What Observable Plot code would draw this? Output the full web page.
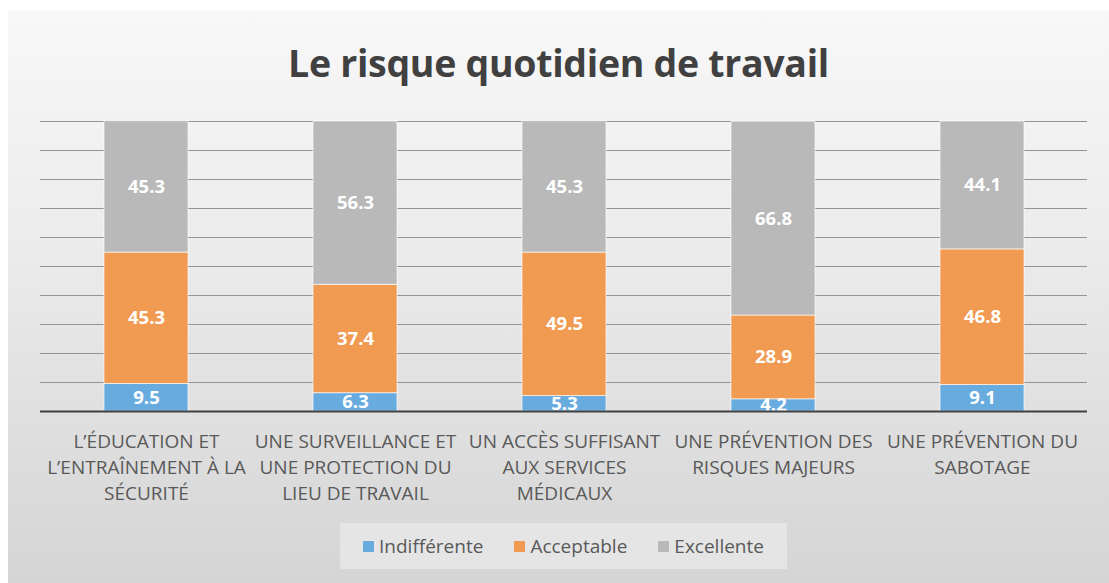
<!DOCTYPE html>
<html>
<head>
<meta charset="utf-8">
<script src="https://cdn.jsdelivr.net/npm/d3@7"></script>
<script src="https://cdn.jsdelivr.net/npm/@observablehq/plot@0.6"></script>
<style>
  html, body { margin: 0; padding: 0; background: #ffffff; }
  #root { position: relative; width: 1109px; height: 583px; overflow: hidden; font-family: "Open Sans", Lato, sans-serif; }
  #bg { position: absolute; left: 8px; top: 11px; width: 1101px; height: 572px;
        background: linear-gradient(to bottom, #f8f8f8 0%, #ececec 40%, #dedede 75%, #d5d5d5 100%); }
  #title { position: absolute; left: 8px; width: 1101px; top: 38px; text-align: center;
           font-size: 37.5px; font-weight: 700; color: #404040; line-height: 50px; letter-spacing: -0.3px; }
  #chart { position: absolute; left: 0; top: 100px; }
  #legend { position: absolute; left: 340px; top: 523px; width: 447px; height: 46px;
            background: rgba(240,240,240,0.55); display: flex; align-items: center; justify-content: center;
            gap: 31px; font-size: 19px; color: #595959; }
  .item { display: flex; align-items: center; gap: 5px; }
  .sw { width: 11px; height: 11px; display: inline-block; }
</style>
</head>
<body>
<div id="root">
  <div id="bg"></div>
  <div id="title"></div>
  <div id="chart"></div>
  <div id="legend"></div>
</div>
<script>
const titleText = "Le risque quotidien de travail";
const categories = [
  "L’ÉDUCATION ET L’ENTRAÎNEMENT À LA SÉCURITÉ",
  "UNE SURVEILLANCE ET UNE PROTECTION DU LIEU DE TRAVAIL",
  "UN ACCÈS SUFFISANT AUX SERVICES MÉDICAUX",
  "UNE PRÉVENTION DES RISQUES MAJEURS",
  "UNE PRÉVENTION DU SABOTAGE"
];
const tickLabels = [
  "L’ÉDUCATION ET\nL’ENTRAÎNEMENT À LA\nSÉCURITÉ",
  "UNE SURVEILLANCE ET\nUNE PROTECTION DU\nLIEU DE TRAVAIL",
  "UN ACCÈS SUFFISANT\nAUX SERVICES\nMÉDICAUX",
  "UNE PRÉVENTION DES\nRISQUES MAJEURS",
  "UNE PRÉVENTION DU\nSABOTAGE"
];
const seriesNames = ["Indifférente", "Acceptable", "Excellente"];
const seriesColors = ["#68abdf", "#f19a52", "#b9b9b9"];
const indifferente = [9.5, 6.3, 5.3, 4.2, 9.1];
const acceptable = [45.3, 37.4, 49.5, 28.9, 46.8];
const excellente = [45.3, 56.3, 45.3, 66.8, 44.1];
const gridTicks = [10, 20, 30, 40, 50, 60, 70, 80, 90, 100];

const seriesValues = [indifferente, acceptable, excellente];
const rows = [];
seriesNames.forEach((s, si) => {
  categories.forEach((c, ci) => rows.push({category: c, series: s, value: seriesValues[si][ci]}));
});
const labelOf = new Map(categories.map((c, i) => [c, tickLabels[i]]));

document.getElementById("title").textContent = titleText;

const W = 1109, H = 420;
const chart = Plot.plot({
  width: W,
  height: H,
  marginLeft: 40,
  marginRight: 22,
  marginTop: 21,
  marginBottom: 109,
  style: {background: "transparent", fontFamily: "'Open Sans', Lato, sans-serif", overflow: "visible"},
  x: {domain: categories, paddingInner: 0.6, paddingOuter: 0.3},
  y: {domain: [0, 100], axis: null},
  color: {domain: seriesNames, range: seriesColors},
  marks: [
    Plot.ruleY(gridTicks, {stroke: "#949494", strokeWidth: 1}),
    Plot.barY(rows, {x: "category", y: "value", fill: "series", order: seriesNames, stroke: "#ffffff", strokeWidth: 0.8, strokeOpacity: 0.8}),
    Plot.text(rows, Plot.stackY({x: "category", y: "value", z: "series", order: seriesNames, text: d => d.value.toFixed(1), fill: "#ffffff", fontSize: 18.5, fontWeight: 700})),
    Plot.ruleY([0], {stroke: "#404040", strokeWidth: 2}),
    Plot.axisX({tickSize: 0, tickPadding: 18, tickFormat: d => labelOf.get(d), fontSize: 19, lineHeight: 1.36, fill: "#595959", lineAnchor: "top", label: null})
  ]
});
document.getElementById("chart").appendChild(chart);

const legend = document.getElementById("legend");
seriesNames.forEach((s, i) => {
  const it = document.createElement("div");
  it.className = "item";
  const sw = document.createElement("span");
  sw.className = "sw";
  sw.style.background = seriesColors[i];
  const t = document.createElement("span");
  t.textContent = s;
  it.appendChild(sw); it.appendChild(t);
  legend.appendChild(it);
});
</script>
</body>
</html>
